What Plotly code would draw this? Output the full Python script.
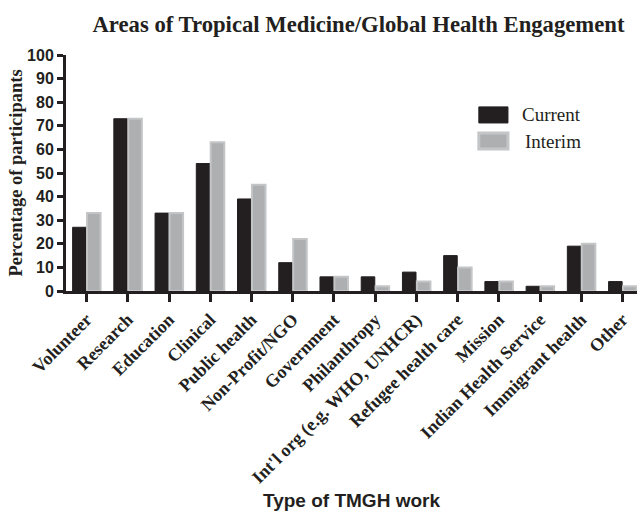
import plotly.graph_objects as go

categories = ["Volunteer", "Research", "Education", "Clinical", "Public health",
              "Non-Profit/NGO", "Government", "Philanthropy",
              "Int'l org (e.g. WHO, UNHCR)", "Refugee health care", "Mission",
              "Indian Health Service", "Immigrant health", "Other"]
current = [27, 73, 33, 54, 39, 12, 6, 6, 8, 15, 4, 2, 19, 4]
interim = [33, 73, 33, 63, 45, 22, 6, 2, 4, 10, 4, 2, 20, 2]
y_ticks = list(range(0, 101, 10))
series_names = ["Current", "Interim"]

SERIF = "Liberation Serif, Times New Roman, serif"
SANS = "Liberation Sans, Arial, sans-serif"
INK = "#231f20"
GREY = "#aeafb1"
GREY_EDGE = "#c4c5c7"

fig = go.Figure()
fig.add_trace(go.Bar(x=categories, y=current, name=series_names[0],
                     marker=dict(color=INK, line=dict(color=INK, width=1))))
fig.add_trace(go.Bar(x=categories, y=interim, name=series_names[1],
                     marker=dict(color=GREY, line=dict(color=GREY_EDGE, width=2))))

# custom legend (large swatches as in the original)
fig.add_shape(type="rect", xref="paper", yref="paper", x0=0.723, x1=0.774, y0=0.712, y1=0.780,
              fillcolor=INK, line=dict(color=INK, width=1))
fig.add_shape(type="rect", xref="paper", yref="paper", x0=0.723, x1=0.774, y0=0.602, y1=0.669,
              fillcolor=GREY, line=dict(color=GREY_EDGE, width=3))
fig.add_annotation(text=series_names[0], xref="paper", yref="paper", x=0.795, y=0.748,
                   xanchor="left", yanchor="middle", showarrow=False,
                   font=dict(family=SERIF, size=19, color=INK))
fig.add_annotation(text=series_names[1], xref="paper", yref="paper", x=0.801, y=0.632,
                   xanchor="left", yanchor="middle", showarrow=False,
                   font=dict(family=SERIF, size=19, color=INK))

fig.update_layout(
    width=639, height=511,
    margin=dict(l=66, r=2, t=55, b=220, autoexpand=False),
    paper_bgcolor="white", plot_bgcolor="white",
    barmode="group", bargap=0.3, bargroupgap=0.06,
    title=dict(text="Areas of Tropical Medicine/Global Health Engagement",
               font=dict(family=SERIF, size=22.7, color=INK, weight="bold"),
               x=0.561, xanchor="center", y=0.953, yanchor="middle"),
    showlegend=False,
)
fig.update_xaxes(
    range=[-0.5, 13.35], automargin=False,
    showline=True, linecolor=INK, linewidth=3,
    ticks="outside", ticklen=8, tickwidth=3, tickcolor=INK,
    tickangle=-45, tickfont=dict(family=SERIF, size=18, color=INK, weight="bold"),
    showgrid=False, zeroline=False,
    title=dict(text="Type of TMGH work",
               font=dict(family=SANS, size=19, color=INK, weight="bold"),
               standoff=21),
)
fig.update_yaxes(
    range=[0, 100], tickvals=y_ticks, automargin=False,
    showline=True, linecolor=INK, linewidth=3,
    ticks="outside", ticklen=6, tickwidth=3, tickcolor=INK,
    tickfont=dict(family=SANS, size=16, color=INK, weight="bold"),
    showgrid=False, zeroline=False,
    title=dict(text="Percentage of participants",
               font=dict(family=SERIF, size=18.5, color=INK, weight="bold"),
               standoff=0),
)

fig.write_html("out.html", config={"displayModeBar": False},
               post_script="document.body.style.margin='0';")
